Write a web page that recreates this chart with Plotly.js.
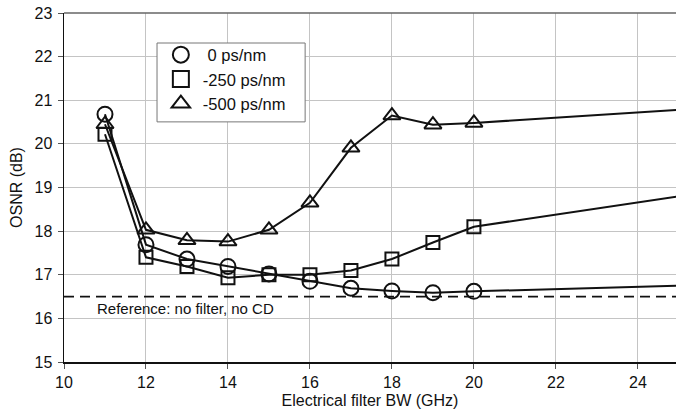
<!DOCTYPE html>
<html>
<head>
<meta charset="utf-8">
<script src="https://cdn.plot.ly/plotly-3.0.1.min.js"></script>
<style>
  html, body { margin: 0; padding: 0; background: #ffffff; }
  #chart { width: 676px; height: 413px; }
</style>
</head>
<body>
<div id="chart"></div>
<script>
// Electrical filter bandwidth (GHz); the last entry is the wide-filter limit (no marker)
const filterBW = [11, 12, 13, 14, 15, 16, 17, 18, 19, 20, 25];

// Required OSNR (dB) for each residual dispersion
const osnr0 = [20.68, 17.69, 17.36, 17.19, 17.02, 16.85, 16.69, 16.63, 16.59, 16.62, 16.75];
const osnr250 = [20.22, 17.40, 17.19, 16.93, 17.00, 17.00, 17.10, 17.36, 17.74, 18.10, 18.80];
const osnr500 = [20.45, 18.03, 17.79, 17.76, 18.03, 18.65, 19.91, 20.65, 20.44, 20.48, 20.78];

const seriesNames = ['\u00a00 ps/nm', '-250 ps/nm', '-500 ps/nm'];
const seriesSymbols = ['circle-open', 'square-open', 'triangle-up-open'];

// Back-to-back reference level (no filter, no CD)
const referenceOSNR = 16.5;
const referenceLabel = 'Reference: no filter, no CD';

const xTicks = [10, 12, 14, 16, 18, 20, 22, 24];
const yTicks = [15, 16, 17, 18, 19, 20, 21, 22, 23];

const FONT = 'Liberation Sans, Arial, Helvetica, sans-serif';
const INK = '#111111';

// hide the marker on the limit point only
const markerOpacity = filterBW.map((v, i) => (i === filterBW.length - 1 ? 0 : 1));
const markerSizes = [15, 13, 15];

const allSeries = [osnr0, osnr250, osnr500];

const traces = [];
allSeries.forEach((ys, k) => {
  traces.push({
    x: filterBW,
    y: ys,
    type: 'scatter',
    mode: 'lines+markers',
    showlegend: false,
    line: { color: INK, width: 2 },
    marker: {
      symbol: seriesSymbols[k],
      size: markerSizes[k],
      color: INK,
      opacity: markerOpacity,
      line: { color: INK, width: 2 }
    },
    hoverinfo: 'skip'
  });
});
// legend entries show the symbol only
allSeries.forEach((ys, k) => {
  traces.push({
    x: [null],
    y: [null],
    type: 'scatter',
    mode: 'markers',
    name: seriesNames[k],
    marker: {
      symbol: seriesSymbols[k],
      size: 16,
      color: INK,
      line: { color: INK, width: 2 }
    }
  });
});

const layout = {
  width: 676,
  height: 413,
  margin: { l: 64, r: 0, t: 13, b: 51 },
  paper_bgcolor: '#ffffff',
  plot_bgcolor: '#ffffff',
  font: { family: FONT, size: 16, color: INK },
  showlegend: true,
  legend: {
    x: 0.155,
    y: 0.93,
    xanchor: 'left',
    yanchor: 'top',
    bgcolor: 'rgba(0,0,0,0)',
    borderwidth: 0,
    font: { family: FONT, size: 16.5, color: INK },
    itemwidth: 34,
    tracegroupgap: 0
  },
  xaxis: {
    range: [10, 24.93],
    tickvals: xTicks,
    ticktext: xTicks.map(String),
    showgrid: true,
    gridcolor: '#c4c4c4',
    gridwidth: 1,
    zeroline: false,
    showline: true,
    linecolor: INK,
    linewidth: 1.5,
    ticks: 'outside',
    ticklen: 5,
    tickcolor: '#555555',
    tickfont: { family: FONT, size: 16, color: INK },
    title: { text: 'Electrical filter BW (GHz)', font: { family: FONT, size: 16, color: INK }, standoff: 5 }
  },
  yaxis: {
    range: [15, 23],
    tickvals: yTicks,
    ticktext: yTicks.map(String),
    showgrid: true,
    gridcolor: '#c4c4c4',
    gridwidth: 1,
    zeroline: false,
    showline: true,
    linecolor: INK,
    linewidth: 1.5,
    ticks: 'outside',
    ticklen: 5,
    tickcolor: '#555555',
    ticklabelstandoff: 2,
    tickfont: { family: FONT, size: 16, color: INK },
    title: { text: 'OSNR (dB)', font: { family: FONT, size: 16, color: INK }, standoff: 8 }
  },
  shapes: [
    {
      type: 'line', xref: 'paper', yref: 'paper',
      x0: 0, x1: 1, y0: 1, y1: 1,
      line: { color: '#666666', width: 1.5 }
    },
    {
      type: 'line', xref: 'paper', yref: 'y',
      x0: 0, x1: 1, y0: referenceOSNR, y1: referenceOSNR,
      line: { color: INK, width: 1.8, dash: '10px,6px' }
    },
    // legend frame
    {
      type: 'rect', xref: 'paper', yref: 'paper', layer: 'above',
      x0: 0.152, x1: 0.394, y0: 0.688, y1: 0.914,
      fillcolor: '#ffffff',
      line: { color: '#777777', width: 1 }
    }
  ],
  annotations: [
    {
      xref: 'x', yref: 'y',
      x: 10.75, y: referenceOSNR,
      xanchor: 'left', yanchor: 'top',
      yshift: -1,
      text: referenceLabel,
      showarrow: false,
      font: { family: FONT, size: 15, color: INK }
    }
  ]
};

Plotly.newPlot('chart', traces, layout, { staticPlot: true, displayModeBar: false });
</script>
</body>
</html>
